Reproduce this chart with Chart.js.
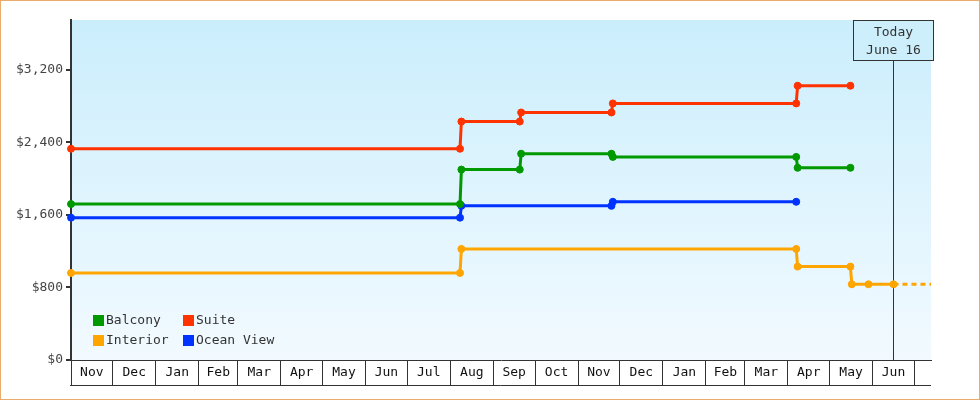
<!DOCTYPE html>
<html>
<head>
<meta charset="utf-8">
<script src="https://cdn.jsdelivr.net/npm/chart.js@4.4.1/dist/chart.umd.min.js"></script>
<style>
  html, body { margin: 0; padding: 0; background: #fff; }
  #wrap { width: 980px; height: 400px; }
</style>
</head>
<body>
<div id="wrap"><canvas id="myChart" width="980" height="400"></canvas></div>
<script>
// days counted from the first of November
const monthLabels = ['Nov', 'Dec', 'Jan', 'Feb', 'Mar', 'Apr', 'May', 'Jun', 'Jul', 'Aug',
  'Sep', 'Oct', 'Nov', 'Dec', 'Jan', 'Feb', 'Mar', 'Apr', 'May', 'Jun'];
const monthStartDays = [0, 30, 61, 92, 120, 151, 181, 212, 242, 273, 304, 334, 365, 395,
  426, 457, 485, 516, 546, 577, 607];
const priceTicks = [0, 800, 1600, 2400, 3200];

const balconyDays = [0, 280, 281, 323, 324, 389, 390, 522, 523, 561];
const balconyPrices = [1720, 1720, 2100, 2100, 2275, 2275, 2240, 2240, 2120, 2120];
const suiteDays = [0, 280, 281, 323, 324, 389, 390, 522, 523, 561];
const suitePrices = [2330, 2330, 2630, 2630, 2730, 2730, 2830, 2830, 3025, 3025];
const interiorDays = [0, 280, 281, 522, 523, 561, 562, 574, 592];
const interiorPrices = [960, 960, 1225, 1225, 1030, 1030, 835, 835, 835];
const oceanViewDays = [0, 280, 281, 389, 390, 522];
const oceanViewPrices = [1570, 1570, 1700, 1700, 1745, 1745];

const todayDay = 592;
const todayText = ['Today', 'June 16'];
const axisEndDay = 619;

const FONT = 'DejaVu Sans Mono';
Chart.defaults.font.family = FONT;

const toPoints = (days, prices) => days.map((d, i) => ({x: d, y: prices[i]}));

// interior gets a dashed projection from today to the end of the axis
const interiorPoints = toPoints(interiorDays, interiorPrices);
interiorPoints.push({x: axisEndDay, y: interiorPrices[interiorPrices.length - 1]});
const lastInterior = interiorPoints.length - 1;

const series = (label, color, data) => ({
  label,
  data,
  borderColor: color,
  backgroundColor: color,
  borderWidth: 3,
  pointRadius: 3.5,
  pointBorderWidth: 1,
  fill: false,
  clip: false,
});

const interiorSet = series('Interior', '#ffa500', interiorPoints);
interiorSet.pointRadius = (c) => (c.dataIndex === lastInterior ? 0 : 3.5);
interiorSet.segment = {
  borderDash: (c) => (c.p1DataIndex === lastInterior ? [5, 4] : undefined),
};

const backgroundPlugin = {
  id: 'background',
  beforeDraw: (chart) => {
    const {ctx, chartArea: a} = chart;
    ctx.save();
    ctx.fillStyle = '#fff';
    ctx.fillRect(0, 0, chart.width, chart.height);
    const g = ctx.createLinearGradient(0, a.top, 0, a.bottom);
    g.addColorStop(0, '#cbeefc');
    g.addColorStop(1, '#f2faff');
    ctx.fillStyle = g;
    ctx.fillRect(a.left, a.top, a.right - a.left, a.bottom - a.top);
    ctx.strokeStyle = '#e8ac6c';
    ctx.lineWidth = 1;
    ctx.strokeRect(0.5, 0.5, chart.width - 1, chart.height - 1);
    ctx.restore();
  },
};

const todayPlugin = {
  id: 'today',
  beforeDatasetsDraw: (chart) => {
    const {ctx, chartArea: a} = chart;
    const x = Math.round(chart.scales.x.getPixelForValue(todayDay)) + 0.5;
    const boxTop = a.top + 0.5;
    const boxH = 40;
    ctx.save();
    ctx.strokeStyle = '#333';
    ctx.lineWidth = 1;
    ctx.beginPath();
    ctx.moveTo(x, boxTop + boxH);
    ctx.lineTo(x, a.bottom);
    ctx.stroke();
    ctx.fillStyle = '#cdeffc';
    ctx.fillRect(x - 40, boxTop, 80, boxH);
    ctx.strokeRect(x - 40, boxTop, 80, boxH);
    ctx.fillStyle = '#333';
    ctx.font = '13px ' + FONT;
    ctx.textAlign = 'center';
    ctx.textBaseline = 'middle';
    ctx.fillText(todayText[0], x, boxTop + 12);
    ctx.fillText(todayText[1], x, boxTop + 30);
    ctx.restore();
  },
};

const boxAxisPlugin = {
  id: 'boxAxis',
  afterDraw: (chart) => {
    const {ctx, chartArea: a} = chart;
    const xs = chart.scales.x;
    ctx.save();
    ctx.strokeStyle = '#333';
    ctx.lineWidth = 1;
    ctx.beginPath();
    ctx.moveTo(a.left - 1, a.bottom + 25.5);
    ctx.lineTo(a.right, a.bottom + 25.5);
    ctx.stroke();
    ctx.fillStyle = '#111';
    ctx.font = '13px ' + FONT;
    ctx.textAlign = 'center';
    ctx.textBaseline = 'middle';
    monthLabels.forEach((m, i) => {
      const cx = (xs.getPixelForValue(monthStartDays[i]) + xs.getPixelForValue(monthStartDays[i + 1])) / 2;
      ctx.fillText(m, cx, a.bottom + 13);
    });
    ctx.restore();
  },
};

const legendPlugin = {
  id: 'boxLegend',
  afterDatasetsDraw: (chart) => {
    const {ctx, chartArea: a} = chart;
    const order = [0, 1, 2, 3];
    ctx.save();
    ctx.font = '13px ' + FONT;
    ctx.textBaseline = 'middle';
    ctx.textAlign = 'left';
    order.forEach((di, k) => {
      const ds = chart.data.datasets[di];
      const x = a.left + 22 + (k % 2) * 90;
      const y = a.bottom - 45 + Math.floor(k / 2) * 20;
      ctx.fillStyle = ds.borderColor;
      ctx.fillRect(x, y, 11, 11);
      ctx.fillStyle = '#333';
      ctx.fillText(ds.label, x + 13, y + 6);
    });
    ctx.restore();
  },
};

new Chart(document.getElementById('myChart').getContext('2d'), {
  type: 'line',
  data: {
    datasets: [
      series('Balcony', '#009900', toPoints(balconyDays, balconyPrices)),
      series('Suite', '#ff3300', toPoints(suiteDays, suitePrices)),
      interiorSet,
      series('Ocean View', '#0033ff', toPoints(oceanViewDays, oceanViewPrices)),
    ],
  },
  options: {
    responsive: false,
    animation: false,
    layout: {padding: {left: 0, top: 20, right: 49, bottom: 15}},
    plugins: {legend: {display: false}, tooltip: {enabled: false}},
    scales: {
      x: {
        type: 'linear',
        min: 0,
        max: axisEndDay,
        afterBuildTicks: (s) => { s.ticks = monthStartDays.map((v) => ({value: v})); },
        afterFit: (s) => { s.height = 25; },
        grid: {drawOnChartArea: false, tickLength: 25, color: '#333', lineWidth: 1},
        border: {color: '#333', width: 1},
        ticks: {display: false},
      },
      y: {
        min: 0,
        max: 3750,
        afterBuildTicks: (s) => { s.ticks = priceTicks.map((v) => ({value: v})); },
        afterFit: (s) => { s.width = 71; },
        grid: {drawOnChartArea: false, tickLength: 5, color: '#333', lineWidth: 2},
        border: {color: '#333', width: 2},
        ticks: {
          color: '#444',
          padding: 3,
          font: {size: 13, family: FONT},
          callback: (v) => '$' + v.toLocaleString('en-US'),
        },
      },
    },
  },
  plugins: [backgroundPlugin, todayPlugin, boxAxisPlugin, legendPlugin],
});
</script>
</body>
</html>
